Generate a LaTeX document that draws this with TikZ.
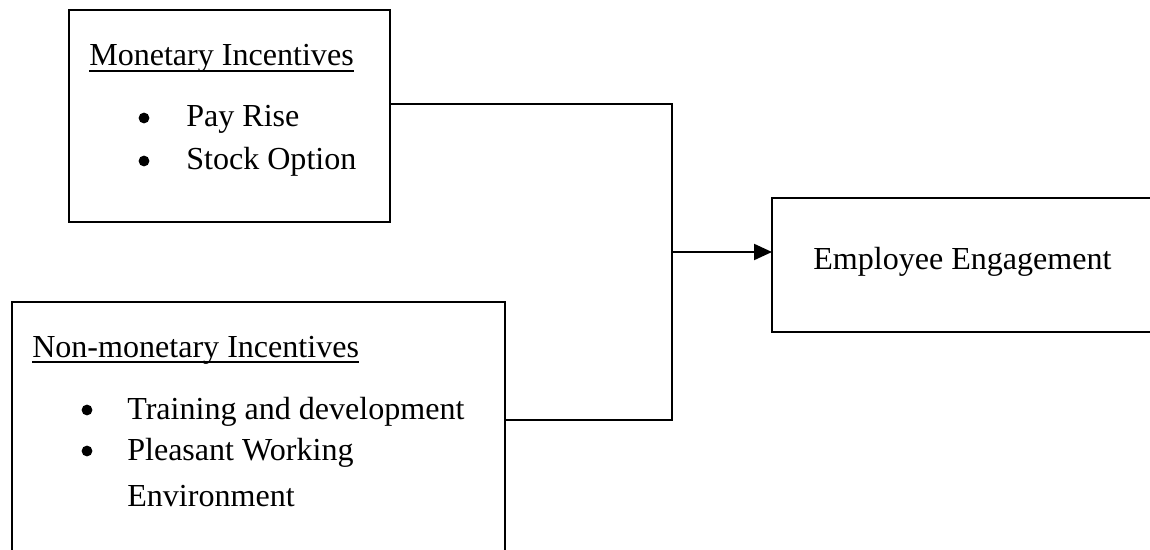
\documentclass[tikz,border=0pt]{standalone}
\usepackage{fontspec}
\setmainfont{Liberation Serif}
\usetikzlibrary{arrows.meta}

\begin{document}
\begin{tikzpicture}[x=0.025cm,y=-0.025cm,
  font=\fontsize{22.8}{27}\selectfont,
  box/.style={draw,line width=1.1pt,inner sep=0pt,outer sep=0pt,anchor=north west},
  txt/.style={anchor=base west,inner sep=0pt},
  dot/.style={circle,fill,inner sep=0pt,minimum size=0.27cm},
  uline/.style={line width=1.2pt},
  link/.style={line width=1.1pt}]
\useasboundingbox (0,0) rectangle (1150,550);
% boxes
\node[box,minimum width=8.025cm,minimum height=5.3cm] (mon) at (69,10) {};
\node[box,minimum width=12.325cm,minimum height=7cm] (non) at (12,302) {};
\node[box,minimum width=10.7cm,minimum height=3.35cm] (eng) at (772,198) {};
% texts
\node[txt] (monT) at (89,66) {Monetary Incentives};
\draw[uline] ([yshift=-0.13cm]monT.base west) -- ([yshift=-0.13cm]monT.base east);
\foreach \y/\s/\n in {127/Pay Rise/m1,170/Stock Option/m2}{
  \node[dot] (\n d) at (144,\y-9) {};
  \node[txt] (\n) at (186,\y) {\s};
}
\node[txt] (nonT) at (32,357) {Non-monetary Incentives};
\draw[uline] ([yshift=-0.13cm]nonT.base west) -- ([yshift=-0.13cm]nonT.base east);
\foreach \y/\s/\n in {419/Training and development/n1,460/Pleasant Working/n2}{
  \node[dot] (\n d) at (87,\y-9) {};
  \node[txt] (\n) at (127,\y) {\s};
}
\node[txt] (n3) at (127,506) {Environment};
\node[txt] (engT) at (813,270) {Employee Engagement};
% connectors
\coordinate (hub) at (672,252);
\draw[link] (mon.east |- 0,104) -| (hub);
\draw[link] (non.east |- 0,420) -| (hub);
\draw[line width=1.5pt,-{Triangle[length=0.45cm,width=0.4cm]}] (hub) -- (eng.west |- hub);
\end{tikzpicture}
\end{document}
